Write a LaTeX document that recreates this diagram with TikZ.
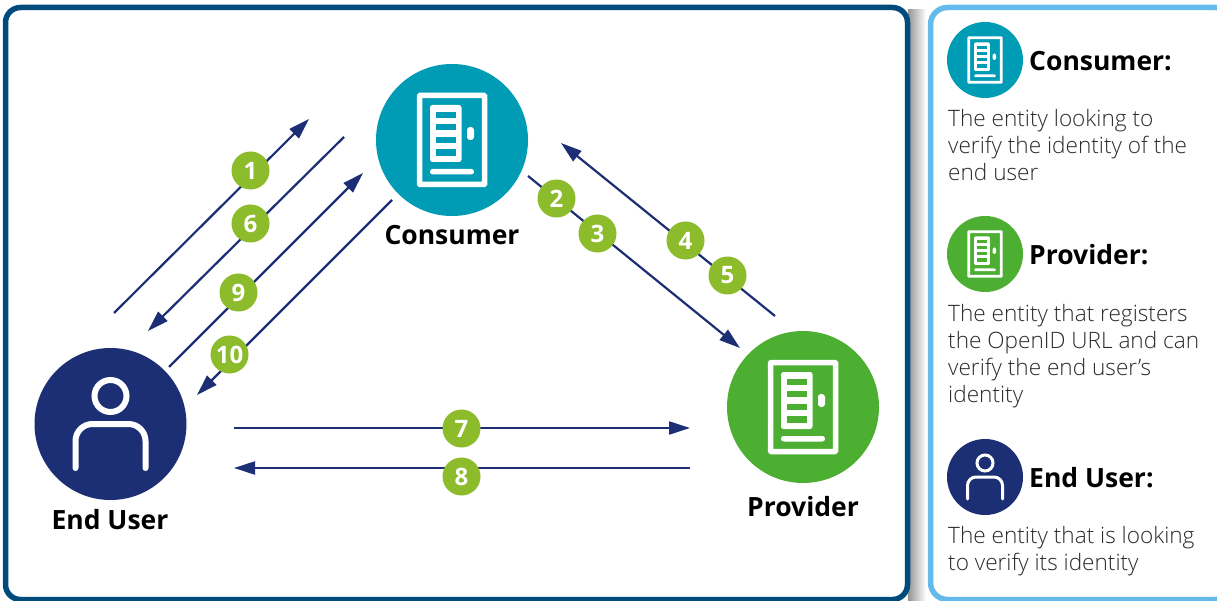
\documentclass[tikz,border=0pt]{standalone}
\usepackage{fontspec}
\setmainfont{Open Sans}
\newfontfamily\lightf{Open Sans Light}
\usetikzlibrary{arrows.meta}
\definecolor{frameblue}{HTML}{004A7C}
\definecolor{panelblue}{HTML}{64BBEB}
\definecolor{consumerc}{HTML}{009BB5}
\definecolor{providerc}{HTML}{4CAF32}
\definecolor{userc}{HTML}{1C2F74}
\definecolor{badgec}{HTML}{8CBB2C}
\definecolor{bodyc}{HTML}{2A2A2A}
\tikzset{
  x=1pt,y=-1pt,
  link/.style={draw=userc,line width=2.2pt,-{Triangle[length=21pt,width=13pt]}},
  badge/.style={circle,fill=badgec,minimum size=38pt,inner sep=0pt,text=white,font=\fontsize{24}{24}\selectfont\bfseries},
  disc/.style={circle,minimum size=#1,inner sep=0pt},
  title/.style={font=\fontsize{26.5}{28}\selectfont\bfseries,text=black,inner sep=0pt},
  head/.style={anchor=base west,inner sep=0pt,font=\fontsize{26.5}{28}\selectfont\bfseries,text=black},
  body/.style={anchor=north west,align=left,inner sep=0pt,text=bodyc,font=\fontsize{22.6}{27}\selectfont\lightf},
}
\newcommand{\doorIcon}[3]{%
  \begin{scope}[shift={(#1)},x=#2pt,y=-#2pt]
    \draw[white,line width=#2*5.5pt,rounded corners=#2*0.8pt] (-32.5,-44.5) rectangle (32.5,44.5);
    \fill[white,rounded corners=#2*2.5pt] (-22,-35) rectangle (9.5,22);
    \foreach \ya/\yb in {-28/-22,-16/-10,-3/3,9/16}{\fill[#3] (-16,\ya) rectangle (3.5,\yb);}
    \fill[white,rounded corners=#2*3pt] (15,-13) rectangle (22,0);
    \fill[white,rounded corners=#2*2.6pt] (-22,29) rectangle (22,34.5);
  \end{scope}}
\newcommand{\userIcon}[2]{%
  \begin{scope}[shift={(#1)},x=#2pt,y=-#2pt]
    \draw[white,line width=#2*6pt] (0,-28) circle[radius=#2*16pt];
    \draw[white,line width=#2*6pt,line cap=round,rounded corners=#2*17pt] (-35,44) -- (-35,0) -- (35,0) -- (35,44);
  \end{scope}}
\begin{document}
\begin{tikzpicture}
\useasboundingbox (0,0) rectangle (1217,601);
% frames
\shade[left color=black!42,right color=white] (908,10) rectangle (926,601);
\draw[frameblue,line width=5.5pt,fill=white,rounded corners=15pt] (5.5,7.5) rectangle (907.5,599.5);
\draw[panelblue,line width=5.5pt,fill=white,rounded corners=17pt] (930.5,7.5) rectangle (1232,599.5);
% main discs
\node[disc=152pt,fill=consumerc] (consumer) at (452,140) {};
\node[disc=152pt,fill=providerc] (provider) at (803,407) {};
\node[disc=152pt,fill=userc] (user) at (110.5,424) {};
\doorIcon{consumer.center}{1}{consumerc}
\doorIcon{provider.center}{1}{providerc}
\userIcon{user.center}{1}
\node[title] (consumerlabel) at (452,235) {Consumer};
\node[title] (providerlabel) at (803,507) {Provider};
\node[title] (userlabel) at (110,520) {End User};
% connector ends
\coordinate (a1) at (114,313); \coordinate (b1) at (309,119);
\coordinate (a6) at (344,137); \coordinate (b6) at (148,331);
\coordinate (a9) at (169,367); \coordinate (b9) at (363,173);
\coordinate (a10) at (392,200); \coordinate (b10) at (197,395);
\coordinate (a2) at (528,176); \coordinate (b2) at (740,348);
\coordinate (a4) at (775,316); \coordinate (b4) at (561,143);
\coordinate (a7) at (234,428); \coordinate (b7) at (690,428);
\coordinate (a8) at (690,468); \coordinate (b8) at (234,468);
\foreach \n in {1,6,9,10,2,4,7,8}{\draw[link] (a\n) -- (b\n);}
% badges
\node[badge] (n1) at (250.5,170.5) {1};
\node[badge] (n6) at (250.5,223.5) {6};
\node[badge] (n9) at (238.5,292.5) {9};
\node[badge] (n10) at (229.5,354.5) {10};
\node[badge] (n2) at (556.5,198.5) {2};
\node[badge] (n3) at (597.5,233.5) {3};
\node[badge] (n4) at (685.5,240.5) {4};
\node[badge] (n5) at (727.5,275.5) {5};
\node[badge] (n7) at (461.5,428.5) {7};
\node[badge] (n8) at (461.5,476.5) {8};
% legend
\node[disc=76pt,fill=consumerc] (lc) at (985,60) {};
\doorIcon{lc.center}{0.5}{consumerc}
\node[head] (lct) at (1029,71) {Consumer:};
\node[body] (lcb) at (948,109) {The entity looking to\\verify the identity of the\\end user};
\node[disc=76pt,fill=providerc] (lp) at (985,254) {};
\doorIcon{lp.center}{0.5}{providerc}
\node[head] (lpt) at (1029,265) {Provider:};
\node[body] (lpb) at (948,304) {The entity that registers\\the OpenID URL and can\\verify the end user’s\\identity};
\node[disc=76pt,fill=userc] (lu) at (985,477) {};
\userIcon{lu.center}{0.5}
\node[head] (lut) at (1029,487) {End User:};
\node[body] (lub) at (948,526) {The entity that is looking\\to verify its identity};
\end{tikzpicture}
\end{document}
